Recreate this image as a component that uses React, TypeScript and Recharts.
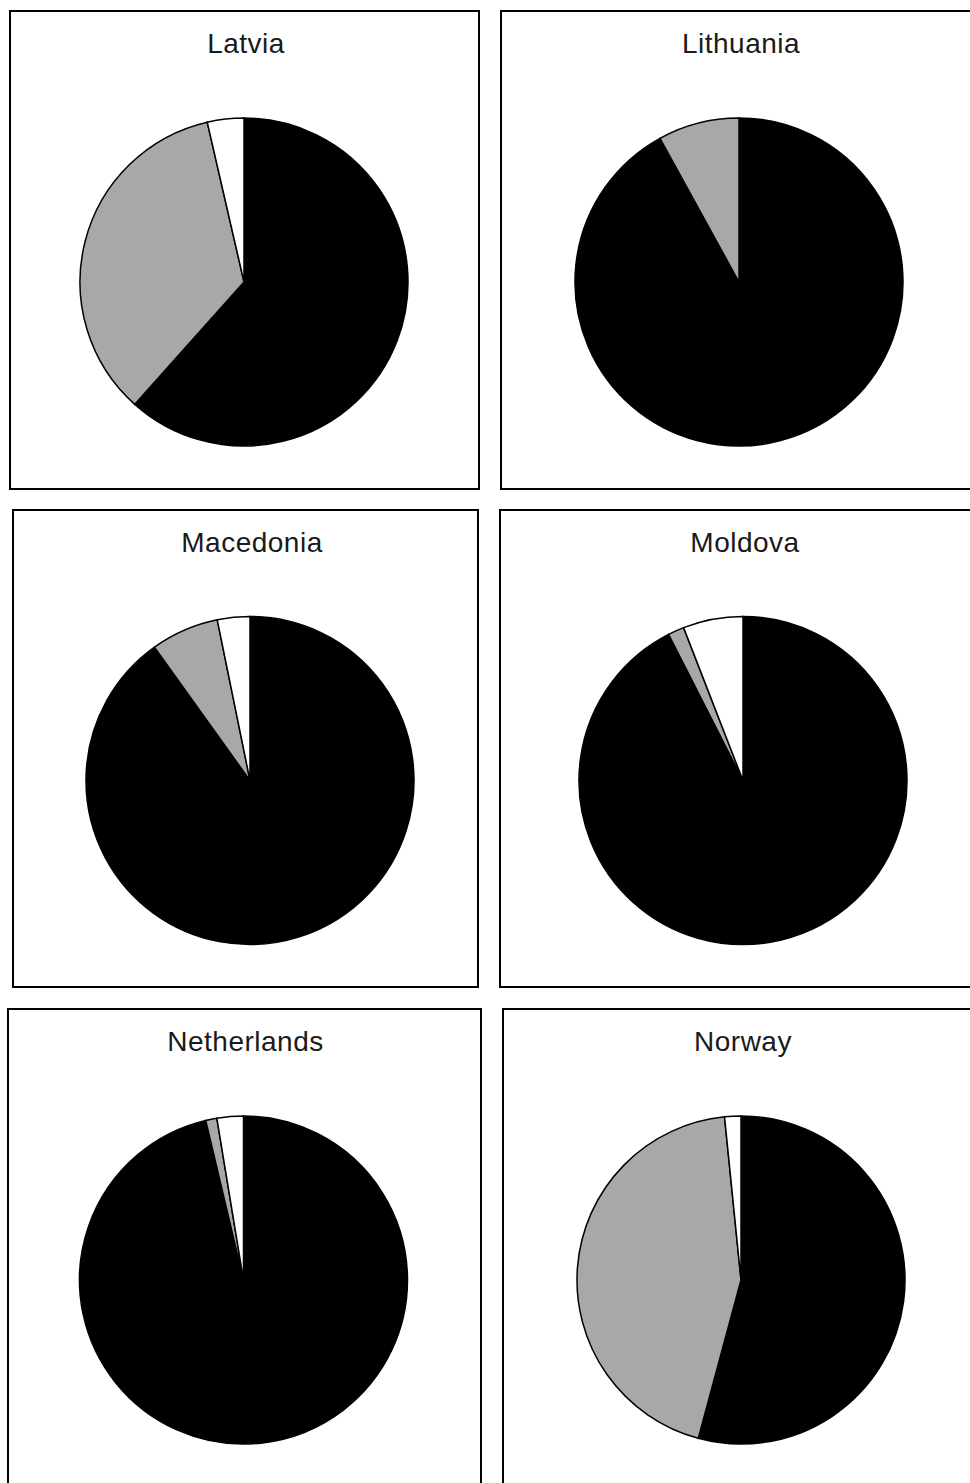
import React from 'react';
import { PieChart, Pie, Cell } from 'recharts';

const countries = ['Latvia', 'Lithuania', 'Macedonia', 'Moldova', 'Netherlands', 'Norway'];
const blackShare = [61.6, 92.0, 90.1, 92.5, 96.3, 54.2];
const grayShare = [34.8, 8.0, 6.7, 1.6, 1.1, 44.2];
const whiteShare = [3.6, 0.0, 3.2, 5.9, 2.6, 1.6];
const sliceNames = ['black', 'gray', 'white'];
const sliceColors = ['#000000', '#a8a8a6', '#ffffff'];

// panel boxes on the page (outer edge of the border) and pie centre inside each
const panels = [
  { x: 9, y: 10, w: 471, h: 480, cx: 235, cy: 272 },
  { x: 500, y: 10, w: 480, h: 480, cx: 239, cy: 272 },
  { x: 12, y: 509, w: 467, h: 479, cx: 238, cy: 271.5 },
  { x: 499, y: 509, w: 480, h: 479, cx: 244, cy: 271.5 },
  { x: 7, y: 1008, w: 475, h: 490, cx: 236.5, cy: 272 },
  { x: 502, y: 1008, w: 480, h: 490, cx: 239, cy: 272 },
];

const RADIUS = 164;

const CountryPie: React.FC<{ index: number }> = ({ index }) => {
  const p = panels[index];
  const data = sliceNames.map((name, i) => ({
    name,
    value: [blackShare, grayShare, whiteShare][i][index],
  }));
  return (
    <div
      style={{
        position: 'absolute',
        left: p.x,
        top: p.y,
        width: p.w,
        height: p.h,
        boxSizing: 'border-box',
        border: '2px solid #000',
        background: '#fff',
      }}
    >
      {/* title centred over the pie rather than the box */}
      <div
        style={{
          position: 'absolute',
          left: p.cx - 150,
          width: 300,
          top: 18,
          textAlign: 'center',
          fontFamily: '"Liberation Sans", Arial, sans-serif',
          fontSize: 28,
          lineHeight: '28px',
          letterSpacing: '0.5px',
          color: '#1a1a1a',
        }}
      >
        {countries[index]}
      </div>
      <div style={{ position: 'absolute', left: -2, top: -2 }}>
        <PieChart width={p.w} height={p.h} margin={{ top: 0, right: 0, bottom: 0, left: 0 }}>
          <Pie
            data={data}
            dataKey="value"
            cx={p.cx}
            cy={p.cy}
            innerRadius={0}
            outerRadius={RADIUS}
            startAngle={90}
            endAngle={-270}
            stroke="#000"
            strokeWidth={1.5}
            isAnimationActive={false}
          >
            {data.map((entry, i) => (
              <Cell key={`cell-${entry.name}`} fill={sliceColors[i]} />
            ))}
          </Pie>
        </PieChart>
      </div>
    </div>
  );
};

export default function App() {
  return (
    <div style={{ position: 'absolute', left: 0, top: 0, width: 970, height: 1483, overflow: 'hidden', background: '#fff' }}>
      {countries.map((c, i) => (
        <CountryPie key={c} index={i} />
      ))}
    </div>
  );
}
